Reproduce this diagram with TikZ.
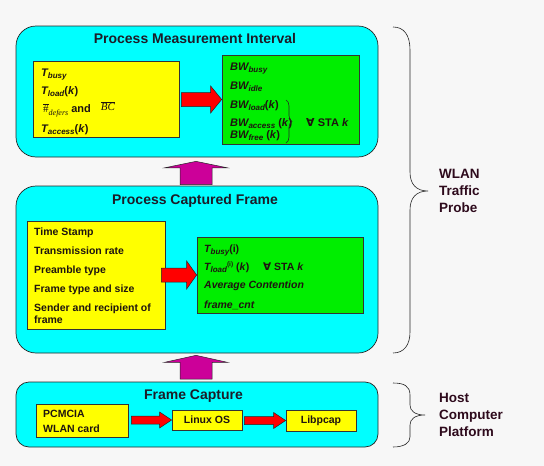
\documentclass[tikz,border=0pt]{standalone}
\usepackage{fontspec}
\setmainfont{Liberation Sans}
\newfontfamily\serifam{Liberation Serif}
\newfontfamily\symfam{DejaVu Sans}
\usetikzlibrary{calc,decorations.pathreplacing}
\definecolor{bgcol}{HTML}{F7F7F7}
\definecolor{cyanbox}{HTML}{00FFFF}
\definecolor{yellowbox}{HTML}{FFFF00}
\definecolor{greenbox}{HTML}{00EE00}
\definecolor{magarrcol}{HTML}{CC0099}
\definecolor{titlecol}{HTML}{1C1C28}
\definecolor{textcol}{HTML}{1E1410}
\definecolor{sidecol}{HTML}{2E0A1C}
\newcommand\sbs[1]{\raisebox{-2.5pt}{\fontsize{8}{8}\selectfont #1}}
\newcommand\sps[1]{\raisebox{4pt}{\fontsize{6.5}{7}\selectfont #1}}
\newcommand\fa{{\symfam\bfseries ∀}}
\newcommand\blockR[5]{\path[redarr] let \p1=(#1), \p2=(#2) in
  (\x1,\y2+#3) -- (\x2-#5,\y2+#3) -- (\x2-#5,\y2+#4) -- (\x2,\y2) -- (\x2-#5,\y2-#4) -- (\x2-#5,\y2-#3) -- (\x1,\y2-#3) -- cycle;}
\newcommand\blockU[5]{\path[magarr] let \p1=(#1), \p2=(#2) in
  (\x1-#3,\y1) -- (\x1-#3,\y2-#5) -- (\x1-#4,\y2-#5) -- (\x1,\y2) -- (\x1+#4,\y2-#5) -- (\x1+#3,\y2-#5) -- (\x1+#3,\y1) -- cycle;}
\begin{document}
\begin{tikzpicture}[x=1pt,y=-1pt,
  cbox/.style={draw=black!85, fill=cyanbox, line width=0.7pt, rounded corners=20pt, inner sep=0pt},
  ybx/.style={draw=black!80, fill=yellowbox, line width=0.7pt, inner sep=0pt},
  gbx/.style={draw=black!80, fill=greenbox, line width=0.7pt, inner sep=0pt},
  ttl/.style={font=\fontsize{14}{16}\selectfont\bfseries, text=titlecol, inner sep=0pt, anchor=base},
  txt/.style={font=\fontsize{10.5}{12}\selectfont\bfseries, text=textcol, inner sep=0pt, anchor=base west},
  txtb/.style={font=\fontsize{11}{12}\selectfont\bfseries, text=textcol, inner sep=0pt, anchor=base west},
  side/.style={font=\fontsize{13.5}{17}\selectfont\bfseries, text=sidecol, inner sep=0pt, anchor=base west},
  brc/.style={draw=black!85, line width=0.6pt},
  redarr/.style={fill=red, draw=black!85, line width=0.5pt},
  magarr/.style={fill=magarrcol, draw=black!85, line width=0.5pt}
]
\fill[bgcol] (0,0) rectangle (544,466);
\useasboundingbox (0,0) rectangle (544,466);

% outer boxes
\node[cbox, minimum width=362, minimum height=131] (top) at (197,91.5) {};
\node[cbox, minimum width=362, minimum height=167] (mid) at (197,269.5) {};
\node[cbox, rounded corners=13pt, minimum width=362, minimum height=65] (bot) at (197,414.5) {};

% inner boxes
\node[ybx, minimum width=146, minimum height=76] (ty) at (106,99) {};
\node[gbx, minimum width=137, minimum height=89] (tg) at (290.5,99.5) {};
\node[ybx, minimum width=138, minimum height=108] (my) at (96,275) {};
\node[gbx, minimum width=166, minimum height=76] (mg) at (280,275) {};
\node[ybx, minimum width=92, minimum height=33] (pc) at (82,420.5) {};
\node[ybx, minimum width=70, minimum height=20, font=\fontsize{10.5}{12}\selectfont\bfseries, text=textcol] (lx) at (207,420) {Linux OS};
\node[ybx, minimum width=70, minimum height=21, font=\fontsize{10.5}{12}\selectfont\bfseries, text=textcol] (lp) at (321,420.5) {Libpcap};

% block arrows
\blockR{$(ty.east)+(2,0)$}{tg.west}{7pt}{13.5pt}{11pt}
\blockR{$(my.east)+(-4,0)$}{mg.west}{7pt}{14pt}{10pt}
\blockR{$(pc.east)+(3,0)$}{lx.west}{4pt}{8pt}{12pt}
\blockR{$(lx.east)+(2,0)$}{lp.west}{4pt}{8pt}{12pt}
\blockU{$(mid.north)+(-1,-1)$}{$(top.south)+(-1,4)$}{16pt}{31.5pt}{6.5pt}
\blockU{$(bot.north)+(-1,-2.5)$}{$(mid.south)+(-1,2)$}{16pt}{31.5pt}{7pt}

% titles
\node[ttl] (t1) at (195,43) {Process Measurement Interval};
\node[ttl] (t2) at (195,204) {Process Captured Frame};
\node[ttl] (t3) at (193.5,399) {Frame Capture};

% top yellow
\node[txtb] (a1) at (41,76) {\itshape T\sbs{busy}};
\node[txtb] (a2) at (41,94) {{\itshape T\sbs{load}}(\textit{k})};
\node[txtb] (a3) at (43,112.5) {{\serifam\mdseries $\overline{\hbox{\#}}$}\raisebox{-2.5pt}{\fontsize{8}{8}\serifam\mdseries\itshape defers} and\hspace{10pt}\raisebox{2pt}{\serifam\mdseries\itshape $\overline{\hbox{BC}}$}};
\node[txtb] (a4) at (41,132) {{\itshape T\sbs{access}}(\textit{k})};

% top green
\node[txtb] (b1) at (230,70) {\itshape BW\sbs{busy}};
\node[txtb] (b2) at (230,89) {\itshape BW\sbs{idle}};
\node[txtb] (b3) at (230,108) {{\itshape BW\sbs{load}}(\textit{k})};
\node[txtb] (b4) at (230,126) {{\itshape BW\sbs{access}} (\textit{k})};
\node[txtb] (b5) at (230,138) {{\itshape BW\sbs{free}} (\textit{k})};
\draw[brc, decorate, decoration={brace, amplitude=6pt}] (286,100) -- (286,143);
\node[txtb] (b6) at (306,126) {\fa\ STA \textit{k}};

% middle yellow
\node[txt] (c1) at (34,235) {Time Stamp};
\node[txt] (c2) at (34,254) {Transmission rate};
\node[txt] (c3) at (34,273) {Preamble type};
\node[txt] (c4) at (34,292) {Frame type and size};
\node[txt] (c5) at (34,311) {Sender and recipient of};
\node[txt] (c6) at (34,323) {frame};

% middle green
\node[txt] (d1) at (204,252) {{\itshape T\sbs{busy}}(i)};
\node[txt] (d2) at (204,270) {{\itshape T\sbs{load}}\sps{(i)} (\textit{k})};
\node[txt] (d3) at (263,270) {\fa\ STA \textit{k}};
\node[txt] (d4) at (204,288.5) {\itshape Average Contention};
\node[txt] (d5) at (204,308) {\itshape frame\_cnt};

% bottom
\node[txt] (e1) at (43,417) {PCMCIA};
\node[txt] (e2) at (43,432) {WLAN card};

% side braces
\draw[brc] (393,27) .. controls (404,27) and (410,35) .. (410,50) -- (410,172) .. controls (410,184) and (416,191) .. (428,191) .. controls (416,191) and (410,198) .. (410,210) -- (410,332) .. controls (410,345) and (404,353) .. (393,353);
\draw[brc] (393,383) .. controls (404,383) and (410,386) .. (410,395) -- (410,405) .. controls (410,411) and (415,415) .. (425,415) .. controls (415,415) and (410,419) .. (410,425) -- (410,437) .. controls (410,443) and (404,447) .. (393,447);

\node[side] (s1) at (439,178) {WLAN};
\node[side] (s2) at (439,195) {Traffic};
\node[side] (s3) at (439,212) {Probe};
\node[side] (s4) at (439,402) {Host};
\node[side] (s5) at (439,419) {Computer};
\node[side] (s6) at (439,436) {Platform};
\end{tikzpicture}
\end{document}
